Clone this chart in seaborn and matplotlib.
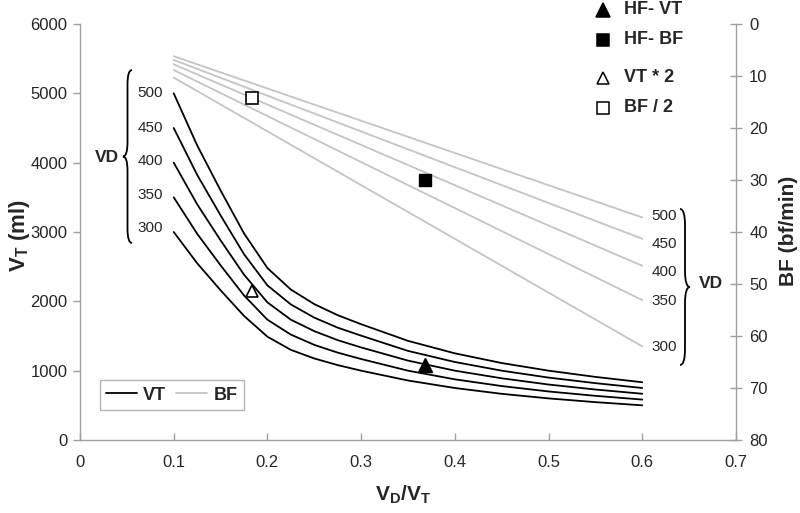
import numpy as np
import pandas as pd
import matplotlib
matplotlib.use("Agg")
import matplotlib.pyplot as plt
import seaborn as sns
from matplotlib.lines import Line2D
from matplotlib.path import Path
from matplotlib.patches import PathPatch

sns.set_style("white")
plt.rcParams['font.family'] = ['Liberation Sans', 'DejaVu Sans']
plt.rcParams['mathtext.fontset'] = 'custom'
plt.rcParams['mathtext.rm'] = 'Liberation Sans'
plt.rcParams['mathtext.bf'] = 'Liberation Sans:bold'
plt.rcParams['mathtext.it'] = 'Liberation Sans:italic'

# ---------------- data ----------------
vd_levels = [500, 450, 400, 350, 300]
vt_x = [0.1, 0.125, 0.15, 0.175, 0.2, 0.225, 0.25, 0.275, 0.3, 0.35, 0.4, 0.45, 0.5, 0.55, 0.6]
vt_500 = [5000, 4250, 3600, 2980, 2480, 2170, 1960, 1800, 1670, 1430, 1250, 1110, 1000, 910, 833]
vt_450 = [4500, 3825, 3240, 2680, 2230, 1955, 1765, 1620, 1505, 1285, 1125, 1000, 900, 820, 750]
vt_400 = [4000, 3400, 2880, 2385, 1985, 1735, 1570, 1440, 1335, 1145, 1000, 890, 800, 728, 667]
vt_350 = [3500, 2975, 2520, 2085, 1735, 1520, 1372, 1260, 1168, 1000, 875, 778, 700, 637, 583]
vt_300 = [3000, 2550, 2160, 1790, 1490, 1300, 1176, 1080, 1000, 858, 750, 666, 600, 546, 500]

bf_x = [0.1, 0.6]
bf_500 = [6.2, 37.2]
bf_450 = [6.9, 41.3]
bf_400 = [7.75, 46.5]
bf_350 = [8.85, 53.1]
bf_300 = [10.3, 62.0]

hf_x = 0.368
hf_vt = 1080
hf_bf = 30
half_x = 0.184
vt_times2 = 2150
bf_half = 14.2

vt_series = {500: vt_500, 450: vt_450, 400: vt_400, 350: vt_350, 300: vt_300}
bf_series = {500: bf_500, 450: bf_450, 400: bf_400, 350: bf_350, 300: bf_300}

vt_df = pd.DataFrame([(x, v, vd) for vd in vd_levels for x, v in zip(vt_x, vt_series[vd])],
                     columns=["x", "vt", "vd"])
bf_df = pd.DataFrame([(x, v, vd) for vd in vd_levels for x, v in zip(bf_x, bf_series[vd])],
                     columns=["x", "bf", "vd"])

# ---------------- figure ----------------
W, H = 800, 513
fig = plt.figure(figsize=(W / 100, H / 100), dpi=100)
L, R, T, B = 80, 736, 24, 440
ax = fig.add_axes([L / W, 1 - B / H, (R - L) / W, (B - T) / H])
ax2 = ax.twinx()

gray_axis = '#a0a0a0'
for a in (ax, ax2):
    a.set_facecolor('none')
    for s in a.spines.values():
        s.set_visible(False)

ax.spines['left'].set_visible(True)
ax.spines['bottom'].set_visible(True)
ax2.spines['right'].set_visible(True)
for s in (ax.spines['left'], ax.spines['bottom'], ax2.spines['right']):
    s.set_color(gray_axis)
    s.set_linewidth(1.0)

# BF lines (right axis)
for vd in vd_levels:
    sub = bf_df[bf_df.vd == vd]
    sns.lineplot(data=sub, x="x", y="bf", ax=ax2, color='#c4c4c4', linewidth=1.3,
                 legend=False, estimator=None)
# VT lines (left axis)
for vd in vd_levels:
    sub = vt_df[vt_df.vd == vd]
    sns.lineplot(data=sub, x="x", y="vt", ax=ax, color='black', linewidth=1.3,
                 legend=False, estimator=None)

# markers
ax.plot([hf_x], [hf_vt], marker='^', color='black', markersize=10, linestyle='none', zorder=5)
ax.plot([half_x], [vt_times2], marker='^', markerfacecolor='white', markeredgecolor='black',
        markersize=9, markeredgewidth=1.2, linestyle='none', zorder=5)
ax2.plot([hf_x], [hf_bf], marker='s', color='black', markersize=9, linestyle='none', zorder=5)
ax2.plot([half_x], [bf_half], marker='s', markerfacecolor='white', markeredgecolor='black',
         markersize=9, markeredgewidth=1.2, linestyle='none', zorder=5)

ax.set_xlim(0, 0.7)
ax.set_ylim(0, 6000)
ax2.set_ylim(80, 0)
ax.set_xticks(np.arange(0, 0.71, 0.1))
ax.set_xticklabels(['0', '0.1', '0.2', '0.3', '0.4', '0.5', '0.6', '0.7'])
ax.set_yticks(range(0, 6001, 1000))
ax2.set_yticks(range(0, 81, 10))

ax.tick_params(axis='y', direction='out', length=5, width=1, color=gray_axis,
               labelsize=12, pad=4, left=True)
ax.tick_params(axis='x', direction='in', length=5, width=1, color=gray_axis,
               labelsize=12, pad=11, bottom=True)
ax2.tick_params(axis='y', direction='inout', length=9, width=1, color=gray_axis,
                labelsize=12, pad=5, right=True)
ax.set_xlabel('')
ax.set_ylabel('')
ax2.set_ylabel('')

# axis titles
fig.text(20 / W, 1 - 236 / H, r'$\mathbf{V_T}$ (ml)', rotation=90, ha='center', va='center',
         fontsize=16, fontweight='bold')
fig.text(789 / W, 1 - 231 / H, 'BF (bf/min)', rotation=90, ha='center', va='center',
         fontsize=15, fontweight='bold')
fig.text(403 / W, 1 - 495 / H, r'$\mathbf{V_D/V_T}$', ha='center', va='center',
         fontsize=15, fontweight='bold')

# legend lower-left
handles = [Line2D([0], [0], color='black', lw=1.3), Line2D([0], [0], color='#c4c4c4', lw=1.3)]
leg = ax.legend(handles, ['VT', 'BF'], loc='lower left', bbox_to_anchor=(0.0305, 0.072),
                borderaxespad=0, ncol=2, frameon=True, fancybox=False, handlelength=1.7,
                columnspacing=0.55, handletextpad=0.35, borderpad=0.35,
                prop={'weight': 'bold', 'size': 13})
leg.get_frame().set_edgecolor('#a0a0a0')
leg.get_frame().set_linewidth(1.0)

# top-right marker legend (outside plot)
def px(x, y):
    return x / W, 1 - y / H

key_items = [
    ('^', 'black', 'black', 10, 'HF- VT', 10),
    ('s', 'black', 'black', 9, 'HF- BF', 40),
    ('^', 'white', 'black', 9, 'VT * 2', 78),
    ('s', 'white', 'black', 8, 'BF / 2', 108),
]
for m, fc, ec, ms, lab, yy in key_items:
    fig.add_artist(Line2D([603 / W], [1 - yy / H], marker=m, markerfacecolor=fc,
                          markeredgecolor=ec, markersize=ms, markeredgewidth=1.1,
                          linestyle='none', transform=fig.transFigure))
    fig.text(624 / W, 1 - yy / H, lab, ha='left', va='center', fontsize=13, fontweight='bold')

# braces
def brace(tip_x, y_top, y_bot, width, direction):
    ym = (y_top + y_bot) / 2
    r = min(width * 1.6, (y_bot - y_top) / 6)
    xm = tip_x + direction * width / 2
    xe = tip_x + direction * width
    pts = [(xe, y_top), (xm, y_top), (xm, y_top + r), (xm, ym - r), (xm, ym), (tip_x, ym),
           (xm, ym), (xm, ym + r), (xm, y_bot - r), (xm, y_bot), (xe, y_bot)]
    codes = [Path.MOVETO, Path.CURVE3, Path.CURVE3, Path.LINETO, Path.CURVE3, Path.CURVE3,
             Path.CURVE3, Path.CURVE3, Path.LINETO, Path.CURVE3, Path.CURVE3]
    verts = [px(x, y) for x, y in pts]
    patch = PathPatch(Path(verts, codes), facecolor='none', edgecolor='black', lw=1.3,
                      transform=fig.transFigure)
    fig.add_artist(patch)

brace(123, 70, 243, 9, +1)
brace(690, 209, 365, 10, -1)

fig.text(*px(107, 157), 'VD', ha='center', va='center', fontsize=12.5, fontweight='bold')
fig.text(*px(711, 283), 'VD', ha='center', va='center', fontsize=12.5, fontweight='bold')

left_lab_y = [93, 128, 161, 195, 228]
for vd, yy in zip(vd_levels, left_lab_y):
    fig.text(*px(150, yy), str(vd), ha='center', va='center', fontsize=11)
right_lab_y = [216, 244, 272, 301, 347]
for vd, yy in zip(vd_levels, right_lab_y):
    fig.text(*px(664, yy), str(vd), ha='center', va='center', fontsize=11)

fig.savefig('out.png', dpi=100)
